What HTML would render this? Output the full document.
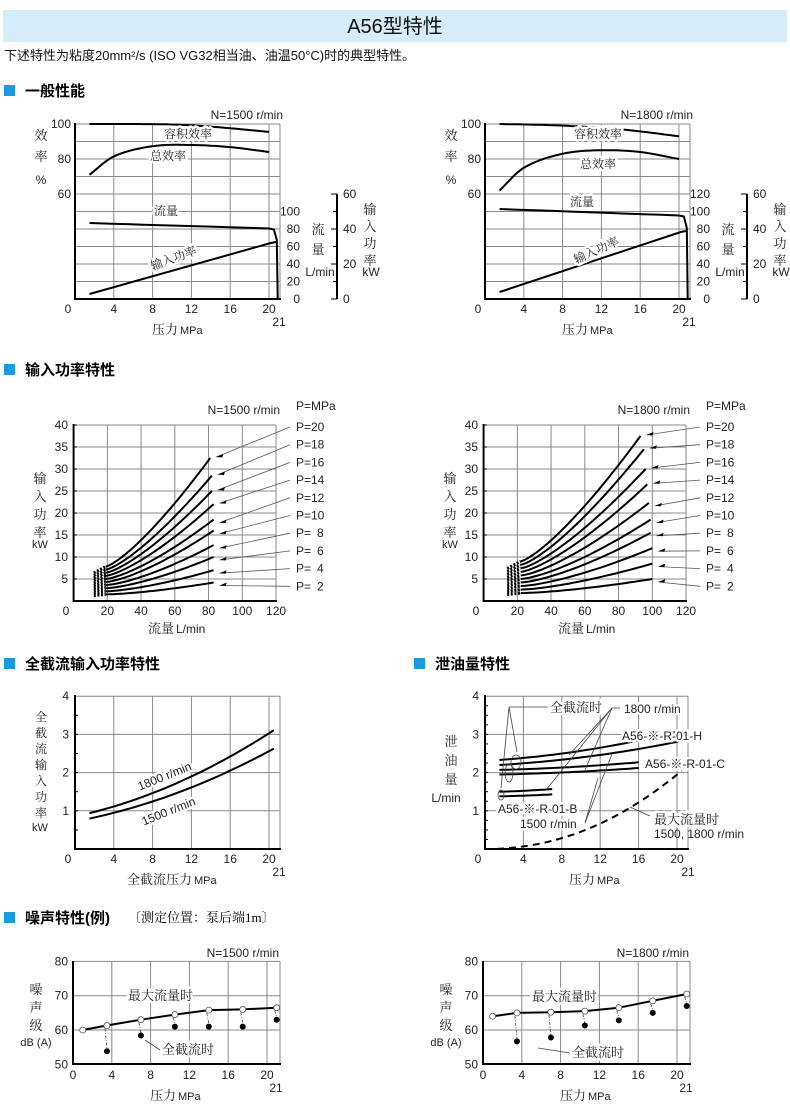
<!DOCTYPE html>
<html><head><meta charset="utf-8">
<style>
html,body{margin:0;padding:0;background:#fff;}
svg{display:block;}
.s{font-family:"Liberation Sans","Noto Sans CJK SC",sans-serif;}
.c{font-family:"Liberation Serif","Noto Serif CJK SC",serif;}
.t{font-size:12px;fill:#222;}
.wb{paint-order:stroke;stroke:#fff;stroke-width:5px;stroke-linejoin:round;}
</style></head><body>
<svg id="g" width="790" height="1109" viewBox="0 0 790 1109" xmlns="http://www.w3.org/2000/svg" class="s">
<rect x="3" y="10" width="784" height="32" fill="#d5edf9"/>
<text x="395" y="33" font-size="20" text-anchor="middle" fill="#111">A56型特性</text>
<text x="4" y="60" font-size="13" fill="#111">下述特性为粘度20mm²/s (ISO VG32相当油、油温50°C)时的典型特性。</text>

<rect x="4" y="85" width="11" height="11" fill="#1a9be0"/>
<text x="25" y="96" font-size="15" font-weight="bold">一般性能</text>
<rect x="4" y="364" width="11" height="11" fill="#1a9be0"/>
<text x="25" y="375" font-size="15" font-weight="bold">输入功率特性</text>
<rect x="4" y="658" width="11" height="11" fill="#1a9be0"/>
<text x="25" y="669" font-size="15" font-weight="bold">全截流输入功率特性</text>
<rect x="414" y="658" width="11" height="11" fill="#1a9be0"/>
<text x="435" y="669" font-size="15" font-weight="bold">泄油量特性</text>
<rect x="4" y="912" width="11" height="11" fill="#1a9be0"/>
<text x="25" y="923" font-size="15" font-weight="bold">噪声特性(例)</text>
<text x="128" y="922" font-size="13" class="c">〔测定位置：泵后端1m〕</text>

<g class="t">
<text x="283" y="119" text-anchor="end">N=1500 r/min</text>
<text x="693" y="119" text-anchor="end">N=1800 r/min</text>
</g>
<g id="dyn"></g>
</svg>
<script>
var NS="http://www.w3.org/2000/svg",G=document.getElementById('dyn');
function el(t,a,txt){var e=document.createElementNS(NS,t);for(var k in a)e.setAttribute(k,a[k]);if(txt!=null)e.textContent=txt;G.appendChild(e);return e;}
function line(x1,y1,x2,y2,w,c,d){var a={x1:x1,y1:y1,x2:x2,y2:y2,stroke:c||'#000','stroke-width':w||1};if(d)a['stroke-dasharray']=d;el('line',a);}
function path(pts,w,d,c){var s='M'+pts.map(function(p){return p[0].toFixed(1)+','+p[1].toFixed(1)}).join('L');var a={d:s,fill:'none',stroke:c||'#000','stroke-width':w||2,'stroke-linejoin':'round'};if(d)a['stroke-dasharray']=d;el('path',a);}
function txt(x,y,s,o){var a={x:x,y:y,'font-size':12,fill:'#222'};for(var k in o)a[k]=o[k];return el('text',a,s);}
function samp(f,a,b,n){var r=[];for(var i=0;i<=n;i++){var t=a+(b-a)*i/n;r.push(f(t));}return r;}
function interp(P,x){
 var n=P.length;
 for(var i=0;i<n-1;i++){if(x>=P[i][0]&&x<=P[i+1][0])break;}
 if(i>=n-1)i=n-2;
 var x0=P[i][0],x1=P[i+1][0],h=x1-x0,t=(x-x0)/h;
 function slope(j){if(j==0)return (P[1][1]-P[0][1])/(P[1][0]-P[0][0]);if(j==n-1)return (P[n-1][1]-P[n-2][1])/(P[n-1][0]-P[n-2][0]);return (P[j+1][1]-P[j-1][1])/(P[j+1][0]-P[j-1][0]);}
 var m0=slope(i)*h,m1=slope(i+1)*h,t2=t*t,t3=t2*t;
 return (2*t3-3*t2+1)*P[i][1]+(t3-2*t2+t)*m0+(-2*t3+3*t2)*P[i+1][1]+(t3-t2)*m1;
}
function vtext(x,y0,dy,chars,o){for(var i=0;i<chars.length;i++)txt(x,y0+i*dy,chars[i],Object.assign({'text-anchor':'middle','class':'c','font-size':13},o||{}));}

function chart1(ox,right){
 var X=function(p){return ox+75+9.7*p},Y=function(e){return 124+(100-e)*1.75};
 for(var k=1;k<=9;k++)line(ox+75,124+17.5*k,ox+280,124+17.5*k,1,'#888');
 line(ox+75,124,ox+280,124,1,'#888');
 [4,8,12,16,20].forEach(function(p){line(X(p),124,X(p),299,1,'#888');});
 line(ox+280,124,ox+280,299,1,'#888');
 line(ox+75,123,ox+75,300,2);line(ox+74,299,ox+281,299,2);
 txt(ox+71,128,'100',{'text-anchor':'end'});txt(ox+71,163,'80',{'text-anchor':'end'});txt(ox+71,198,'60',{'text-anchor':'end'});
 txt(ox+68,313,'0',{'text-anchor':'middle'});
 [4,8,12,16,20].forEach(function(p){txt(X(p),313,''+p,{'text-anchor':'middle'});});
 txt(ox+279,326,'21',{'text-anchor':'middle'});
 txt(ox+178,334,'压力',{'text-anchor':'end','class':'c','font-size':13});txt(ox+180,334,'MPa',{'font-size':11});
 vtext(ox+41,140,21,['效','率']);txt(ox+41,184,'%',{'text-anchor':'middle'});
 var fl=right?['120','100','80','60','40','20','0']:['100','80','60','40','20','0'];
 var y0=right?194:211.7;
 fl.forEach(function(s,i){txt(ox+300,y0+17.5*i+4,s,{'text-anchor':'end'});});
 line(ox+337,194,ox+337,299,2);
 for(var i=0;i<=6;i++){var yy=194+17.5*i;line(ox+(i%2==0?331:333),yy,ox+337,yy,1);}
 ['60','40','20','0'].forEach(function(s,i){txt(ox+343,194+35*i+4,s);});
 vtext(ox+318,234,20,['流','量']);txt(ox+320,276,'L/min',{'text-anchor':'middle'});
 vtext(ox+370,214,17,['输','入','功','率']);txt(ox+371,276,'kW',{'text-anchor':'middle'});
 var ve,te;
 if(!right){
  ve=[[1.5,100],[6,100],[10,99.7],[14,98.5],[20,95.5]];
  te=[[1.5,71],[4,81.5],[8,87.3],[12,88],[16,86.8],[20,84]];
  path(samp(function(p){return[X(p),223+(p-1.5)/18.5*5.5]},1.5,20,10).concat([[X(20.5),229.5],[X(20.8),240],[X(20.9),299]]),2);
  path([[X(1.5),294],[X(20.2),243],[X(20.7),242]],2);
 }else{
  ve=[[1.5,100],[6,99.5],[10,98.5],[14,97],[20,93]];
  te=[[1.5,62],[4,75],[8,83],[12,85],[16,84],[20,80]];
  path(samp(function(p){return[X(p),209+(p-1.5)/18.5*6.5]},1.5,20,10).concat([[X(20.5),216.5],[X(20.8),228],[X(20.9),299]]),2);
  path([[X(1.5),292],[X(20.2),232],[X(20.7),231]],2);
 }
 path(samp(function(p){return[X(p),Y(interp(ve,p))]},1.5,20,40),2);
 path(samp(function(p){return[X(p),Y(interp(te,p))]},1.5,20,40),2);
 txt(ox+188,138,'容积效率',{'text-anchor':'middle','class':'c wb'});
 txt(ox+(right?188:168),right?168:160,'总效率',{'text-anchor':'middle','class':'c wb'});
 txt(ox+(right?172:166),right?206:215,'流量',{'text-anchor':'middle','class':'c wb'});
 txt(0,0,'输入功率',{'text-anchor':'middle','class':'c wb',transform:'translate('+(ox+(right?188:175))+','+(right?254:262)+') rotate('+(right?-24:-20)+')'});
}
chart1(0,false);chart1(410,true);

function chart2(ox,right){
 var X=function(q){return ox+73.6+1.687*q},Y=function(v){return 601-4.4*v};
 for(var v=5;v<=35;v+=5)line(ox+74,Y(v),ox+276,Y(v),1,'#888');
 line(ox+74,Y(40),ox+276,Y(40),1,'#888');
 [20,40,60,80,100,120].forEach(function(q){line(X(q),Y(40),X(q),601,1,'#888');});
 line(ox+73.6,424,ox+73.6,602,2);line(ox+73,601,ox+277,601,2);
 for(var v=0;v<=40;v+=5)line(ox+73.6,Y(v),ox+77,Y(v),1);
 for(var v=5;v<=40;v+=5)txt(ox+68,Y(v)+4,''+v,{'text-anchor':'end'});
 txt(ox+66,615,'0',{'text-anchor':'middle'});
 [20,40,60,80,100,120].forEach(function(q){txt(X(q),615,''+q,{'text-anchor':'middle'});});
 txt(ox+174,633,'流量',{'text-anchor':'end','class':'c','font-size':13});txt(ox+176,633,'L/min',{'font-size':12});
 vtext(ox+40,483,18,['输','入','功','率']);txt(ox+40,548,'kW',{'text-anchor':'middle','font-size':11});
 txt(ox+280,414,right?'N=1800 r/min':'N=1500 r/min',{'text-anchor':'end'});
 txt(ox+296,410,'P=MPa');
 var Ps=[20,18,16,14,12,10,8,6,4,2];
 var endV,endQ,v0,q0,qd;
 if(!right){endV=[32.5,28.5,25,22,18.5,16,12.7,10,7,4.2];endQ=[81,82,82,83,83,83,83,83,83,83];q0=19;qd=12;v0=function(i){return 7.8-i*0.7};}
 else{endV=[37.5,34.5,30,26.5,22.3,18.5,15.5,12,8.5,5];endQ=[93,95,96,97,98,99,99,100,100,100];q0=22;qd=14;v0=function(i){return 9-i*0.8};}
 Ps.forEach(function(P,i){
  var a=v0(i),b=endV[i],e=endQ[i],k=1.3+i*0.02;
  path(samp(function(q){return[X(q),Y(a+(b-a)*Math.pow((q-q0)/(e-q0),k))]},q0,e,30),2);
  path([[X(qd),Y(a*0.82)],[X(q0),Y(a)]],3,'2,1.6');
  var ly=427+17.7*i;
  txt(ox+296,ly+4,'P='+(P<10?'\u2002'+P:P));
  var tx=X(e)+6,ty=Y(b)+3-(i<4?4:0);
  line(tx,ty,ox+290,ly,0.8,'#555');
  el('path',{d:'M'+tx+','+ty+'l7,-3l-1,3.5z',fill:'#000'});
 });
}
chart2(0,false);chart2(410,true);

(function(){
 var X=function(p){return 75+9.7*p},Y=function(v){return 849-38.2*v};
 [1,2,3].forEach(function(v){line(75,Y(v),280,Y(v),1,'#888');});
 line(75,Y(4),280,Y(4),1,'#888');
 [4,8,12,16,20].forEach(function(p){line(X(p),Y(4),X(p),849,1,'#888');});line(280,Y(4),280,849,1,'#888');
 line(75,695,75,850,2);line(74,849,281,849,2);
 for(var v=0.5;v<4;v+=0.5)line(75,Y(v),78,Y(v),1);
 [1,2,3,4].forEach(function(v){txt(69,Y(v)+4,''+v,{'text-anchor':'end'});});
 txt(68,863,'0',{'text-anchor':'middle'});
 [4,8,12,16,20].forEach(function(p){txt(X(p),863,''+p,{'text-anchor':'middle'});});
 txt(279,876,'21',{'text-anchor':'middle'});
 txt(192,884,'全截流压力',{'text-anchor':'end','class':'c','font-size':13});txt(194,884,'MPa',{'font-size':11});
 vtext(41,721,16,['全','截','流','输','入','功','率'],{'font-size':12});txt(40,831,'kW',{'text-anchor':'middle','font-size':11});
 path(samp(function(p){return[X(p),Y(0.85+0.055*p+0.0027*p*p)]},1.5,20.5,30),2);
 path(samp(function(p){return[X(p),Y(0.72+0.048*p+0.0022*p*p)]},1.5,20.5,30),2);
 txt(0,0,'1800 r/min',{'text-anchor':'middle','class':'wb',transform:'translate(166,780) rotate(-22)'});
 txt(0,0,'1500 r/min',{'text-anchor':'middle','class':'wb',transform:'translate(170,815) rotate(-22)'});
})();

(function(){
 var X=function(p){return 485+9.6*p},Y=function(v){return 849-38.2*v};
 [1,2,3,4].forEach(function(v){line(485,Y(v),688,Y(v),1,'#888');});
 [4,8,12,16,20].forEach(function(p){line(X(p),Y(4),X(p),849,1,'#888');});line(688,Y(4),688,849,1,'#888');
 line(485,695,485,850,2);line(484,849,689,849,2);
 for(var v=0.25;v<4;v+=0.25)line(485,Y(v),488,Y(v),1);
 [1,2,3,4].forEach(function(v){txt(479,Y(v)+4,''+v,{'text-anchor':'end'});});
 txt(478,863,'0',{'text-anchor':'middle'});
 [4,8,12,16,20].forEach(function(p){txt(X(p),863,''+p,{'text-anchor':'middle'});});
 txt(688,876,'21',{'text-anchor':'middle'});
 txt(595,884,'压力',{'text-anchor':'end','class':'c','font-size':13});txt(597,884,'MPa',{'font-size':11});
 vtext(451,746,19,['泄','油','量']);txt(446,802,'L/min',{'text-anchor':'middle'});
 function cv(a,b,p0,p1){return samp(function(p){var t=(p-p0)/(p1-p0);return[X(p),Y(a+(b-a)*(0.55*t*t+0.45*t))]},p0,p1,30);}
 path(cv(2.33,3.1,1.5,20.5),2);path(cv(2.2,2.83,1.5,20.5),2);
 path(cv(2.07,2.27,1.5,16),2);path(cv(1.95,2.12,1.5,16),2);
 path(cv(1.5,1.57,1.5,7),2);path(cv(1.38,1.43,1.5,7),2);
 path(samp(function(p){return[X(p),Y(2.05*Math.pow(p/20.5,2.1))]},0,20.5,40),2,'7,5');
 txt(550,712,'全截流时',{'class':'c wb','font-size':13});
 txt(624,713,'1800 r/min',{'class':'wb'});
 txt(622,740,'A56-※-R-01-H',{'class':'wb'});
 txt(645,768,'A56-※-R-01-C',{'class':'wb'});
 txt(498,813,'A56-※-R-01-B',{'class':'wb'});
 txt(520,828,'1500 r/min',{'class':'wb'});
 txt(654,824,'最大流量时',{'class':'c wb','font-size':13});
 txt(654,838,'1500, 1800 r/min');
 var g='#444';
 line(509,707,501,788,0.8,g);line(509,707,517,752,0.8,g);line(509,707,548,707,0.8,g);
 line(612,708,569,755,0.8,g);line(612,708,585,770,0.8,g);line(612,708,546,790,0.8,g);line(612,708,620,708,0.8,g);
 line(585,823,598,778,0.8,g);line(585,823,612,754,0.8,g);
 line(630,807,650,816,0.8,g);
 el('ellipse',{cx:509,cy:773,rx:4,ry:9,fill:'none',stroke:g,'stroke-width':0.8});
 el('ellipse',{cx:516,cy:762,rx:5,ry:7,fill:'none',stroke:g,'stroke-width':0.8});
 el('ellipse',{cx:501,cy:795,rx:3,ry:5,fill:'none',stroke:g,'stroke-width':0.8});
})();

function chart5(ox,right){
 var X=function(p){return ox+73+9.7*p},Y=function(d){return 1030-3.43*(d-60)};
 line(ox+73,Y(80),ox+280,Y(80),1,'#888');line(ox+73,Y(70),ox+280,Y(70),1,'#888');line(ox+73,Y(60),ox+280,Y(60),1,'#888');
 [4,8,12,16,20].forEach(function(p){line(X(p),Y(80),X(p),1064,1,'#888');});line(ox+280,Y(80),ox+280,1064,1,'#888');
 line(ox+73,961,ox+73,1065,2);line(ox+72,1064,ox+281,1064,2);
 [80,70,60,50].forEach(function(d){txt(ox+68,Y(d)+4,''+d,{'text-anchor':'end'});});
 txt(ox+73,1079,'0',{'text-anchor':'middle'});
 [4,8,12,16,20].forEach(function(p){txt(X(p),1079,''+p,{'text-anchor':'middle'});});
 txt(ox+276,1092,'21',{'text-anchor':'middle'});
 txt(ox+176,1100,'压力',{'text-anchor':'end','class':'c','font-size':13});txt(ox+178,1100,'MPa',{'font-size':11});
 vtext(ox+36,994,18,['噪','声','级']);txt(ox+36,1046,'dB (A)',{'text-anchor':'middle','font-size':11});
 txt(ox+279,957,right?'N=1800 r/min':'N=1500 r/min',{'text-anchor':'end'});
 var op=right?[[1,64],[3.5,65],[7,65.2],[10.5,65.5],[14,66.5],[17.5,68.5],[21,70.5]]:[[1,60],[3.5,61.3],[7,63],[10.5,64.5],[14,65.8],[17.5,66],[21,66.5]];
 var fp=right?[[3.5,56.7],[7,57.8],[10.5,61.3],[14,62.8],[17.5,65],[21,67]]:[[3.5,53.8],[7,58.4],[10.5,61],[14,61],[17.5,61],[21,63]];
 fp.forEach(function(f,i){line(X(op[i+1][0])-2,Y(op[i+1][1])+3,X(f[0]),Y(f[1])-3,0.8,'#444','3,1.5,1,1.5');});
 path(op.map(function(p){return[X(p[0]),Y(p[1])]}),2);
 op.forEach(function(p){el('circle',{cx:X(p[0]),cy:Y(p[1]),r:3,fill:'#fff',stroke:'#555','stroke-width':0.8});});
 fp.forEach(function(p){el('circle',{cx:X(p[0]),cy:Y(p[1]),r:3,fill:'#000'});});
 txt(ox+(right?122:128),right?1001:1000,'最大流量时',{'class':'c wb','font-size':13});
 txt(ox+162,right?1057:1054,'全截流时',{'class':'c wb','font-size':13});
 if(right){line(ox+128,1048,ox+160,1053,0.8,'#444');}else{line(ox+145,1040,ox+160,1050,0.8,'#444');}
}
chart5(0,false);chart5(410,true);
</script>
</body></html>
